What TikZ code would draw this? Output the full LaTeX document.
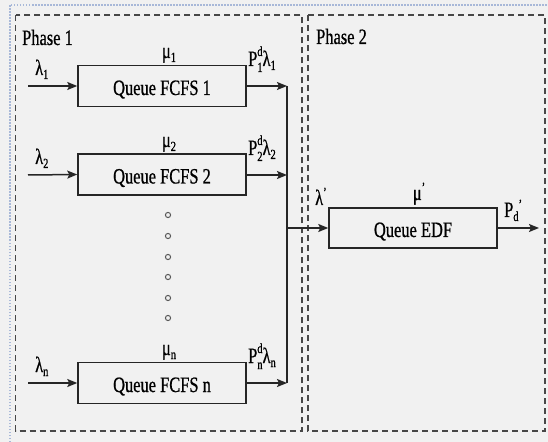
\documentclass[tikz,border=0pt]{standalone}
\usepackage{fontspec}
\setmainfont{Liberation Serif}[FakeStretch=0.75,FakeBold=0.7]
\usetikzlibrary{arrows.meta}
\definecolor{bgc}{HTML}{F1F1F1}
\definecolor{inkc}{HTML}{262626}
\definecolor{dotc}{HTML}{A8B8D8}
\definecolor{circc}{HTML}{5A5A5A}
\newcommand{\smallfnt}{\fontsize{14}{14}\selectfont}
\newcommand{\lsub}[1]{\raisebox{-4bp}{\smallfnt #1}}
\newcommand{\lsup}[1]{\raisebox{8bp}{\smallfnt #1}}
\newcommand{\Pdl}[1]{P\makebox[0pt][l]{\raisebox{10bp}{\smallfnt d}}\raisebox{-6bp}{\smallfnt #1}λ\lsub{#1}}
\tikzset{
  queuebox/.style={draw=inkc, line width=1.5bp, minimum width=168bp, minimum height=41bp, inner sep=0pt, text height=18bp, text depth=0bp, font=\fontsize{22}{24}\selectfont},
  lbl/.style={inner sep=0pt, anchor=base west, font=\fontsize{22}{24}\selectfont},
  lblc/.style={inner sep=0pt, anchor=base, font=\fontsize{22}{24}\selectfont},
  conn/.style={draw=inkc, line width=1.5bp},
  arr/.style={conn, -{Stealth[length=10bp,width=8bp,inset=2bp]}},
  phasebox/.style={draw=inkc!85, line width=1.5bp, dash pattern=on 6bp off 4bp},
  dotcirc/.style={draw=circc, line width=1bp},
}
\begin{document}
\begin{tikzpicture}[x=1bp,y=-1bp]
  % background and bounding box
  \fill[bgc] (0,0) rectangle (548,442);
  \useasboundingbox (0,0) rectangle (548,442);
  \draw[dotc, line width=1.2bp, dash pattern=on 1.5bp off 1.5bp] (10,442) -- (10,5) -- (548,5);

  % phase frames
  \draw[phasebox] (15.5,15) rectangle (302,431);
  \draw[phasebox] (308,15) rectangle (545,431);
  \node[lbl] (ph1) at (22,45) {Phase 1};
  \node[lbl] (ph2) at (316,44) {Phase 2};

  % queues
  \node[queuebox] (q1) at (162,86) {Queue FCFS 1};
  \node[queuebox] (q2) at (162,174.5) {Queue FCFS 2};
  \node[queuebox] (qn) at (162,383) {Queue FCFS n};
  \node[queuebox, minimum height=40bp] (edf) at (413,228) {Queue EDF};

  % coordinates
  \coordinate (a1) at (28,86);
  \coordinate (a2) at (28,175);
  \coordinate (an) at (28,383);
  \coordinate (j1) at (287,86);
  \coordinate (j2) at (287,175);
  \coordinate (jn) at (287,383);
  \coordinate (jm) at (287,228);
  \coordinate (out) at (539,228);

  % connectors
  \draw[arr] (a1) -- (q1.west);
  \draw[arr] (a2) -- (q2.west);
  \draw[arr] (an) -- (qn.west);
  \draw[arr] (q1.east) -- (j1);
  \draw[arr] (q2.east |- j2) -- (j2);
  \draw[arr] (qn.east) -- (jn);
  \draw[conn] (j1) -- (jn);
  \draw[arr] (jm) -- (edf.west);
  \draw[arr] (edf.east) -- (out);

  % labels
  \node[lbl] (l1) at (35,75) {λ\lsub{1}};
  \node[lbl] (l2) at (35,164) {λ\lsub{2}};
  \node[lbl] (ln) at (35,372) {λ\lsub{n}};
  \node[lblc] (m1) at (169,58) {μ\lsub{1}};
  \node[lblc] (m2) at (169,147) {μ\lsub{2}};
  \node[lblc] (mn) at (169,355) {μ\lsub{n}};
  \node[lbl] (p1) at (248,66) {\Pdl{1}};
  \node[lbl] (p2) at (248,155) {\Pdl{2}};
  \node[lbl] (pn) at (248,363) {\Pdl{n}};
  \node[lbl] (lp) at (315,205) {λ\lsup{\textquoteright}};
  \node[lblc] (mp) at (419,200) {μ\lsup{\textquoteright}};
  \node[lbl] (pd) at (504,217) {P\lsub{d}\lsup{\textquoteright}};

  % ellipsis circles
  \foreach \yy in {215,236,257,277,298,318}
    \draw[dotcirc] (168,\yy) circle (2.6bp);
\end{tikzpicture}
\end{document}
